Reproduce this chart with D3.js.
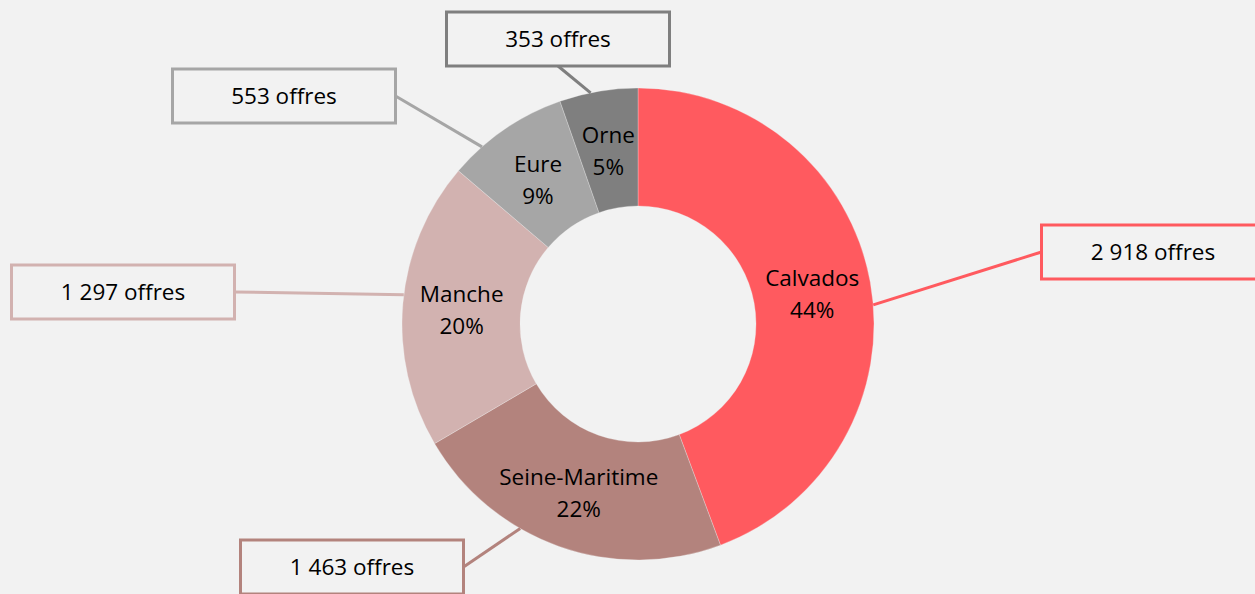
<!DOCTYPE html>
<html>
<head>
<meta charset="utf-8">
<script src="https://cdn.jsdelivr.net/npm/d3@7"></script>
<style>
  html, body { margin: 0; padding: 0; background: #f2f2f2; }
  svg { display: block; }
</style>
</head>
<body>
<div id="viz"></div>
<script>
const width = 1255
const height = 594

// data
const departements = ["Calvados", "Seine-Maritime", "Manche", "Eure", "Orne"]
const offres = [2918, 1463, 1297, 553, 353]
const pourcentages = ["44%", "22%", "20%", "9%", "5%"]
const colors = ["#ff5a5f", "#b3837d", "#d2b2b0", "#a6a6a6", "#7f7f7f"]

// layout of the callout boxes (centre x, centre y) and where the leader hits the ring
const boxW = 223
const boxH = 54
const boxCenters = [[1153, 252], [352, 567], [123, 292], [284, 96], [558, 39]]
const boxAnchor = ["left", "right", "right", "right", "bottom"]
const leaderFrac = [0.535, 0.63, 0.53, 0.27, 0.4]

const fontFamily = "'Open Sans', 'Noto Sans', sans-serif"
const fontSize = 22.5
const fmt = d3.formatLocale({decimal: ",", thousands: "\u00a0", grouping: [3], currency: ["", "€"]}).format(",d")

const cx = 638, cy = 324
const outerR = 236, innerR = 118

const svg = d3.select("#viz").append("svg").attr("width", width).attr("height", height)
svg.append("rect").attr("width", width).attr("height", height).attr("fill", "#f2f2f2")

const data = departements.map((d, i) => ({name: d, value: offres[i], pct: pourcentages[i], color: colors[i], i: i}))

const pie = d3.pie().value(d => d.value).sort(null)
const arcs = pie(data)
const arc = d3.arc().innerRadius(innerR).outerRadius(outerR)

const chart = svg.append("g").attr("transform", `translate(${cx}, ${cy})`)

chart.selectAll("path.slice").data(arcs).enter().append("path")
    .attr("class", "slice")
    .attr("d", arc)
    .attr("fill", d => d.data.color)
    .attr("stroke", "#f2f2f2").attr("stroke-width", 0.3)

// labels inside the ring
const sliceLabels = chart.selectAll("text.sliceLabel").data(arcs).enter().append("text")
    .attr("class", "sliceLabel")
    .attr("transform", d => `translate(${arc.centroid(d)})`)
    .attr("text-anchor", "middle")
    .attr("font-family", fontFamily).attr("font-size", fontSize).attr("fill", "#000")
sliceLabels.append("tspan").attr("x", 0).attr("y", -14).attr("dy", "0.35em").text(d => d.data.name)
sliceLabels.append("tspan").attr("x", 0).attr("y", 18).attr("dy", "0.35em").text(d => d.data.pct)

// leader lines
function anchorPoint(i) {
    const [bx, by] = boxCenters[i]
    if (boxAnchor[i] === "left") return [bx - boxW/2, by]
    if (boxAnchor[i] === "right") return [bx + boxW/2, by]
    return [bx, by + boxH/2]
}
function leaderAngle(d) {
    return d.startAngle + (d.endAngle - d.startAngle) * leaderFrac[d.index]
}
svg.selectAll("line.leader").data(arcs).enter().append("line")
    .attr("class", "leader")
    .attr("x1", d => anchorPoint(d.index)[0])
    .attr("y1", d => anchorPoint(d.index)[1])
    .attr("x2", d => cx + outerR * Math.sin(leaderAngle(d)))
    .attr("y2", d => cy - outerR * Math.cos(leaderAngle(d)))
    .attr("stroke", d => d.data.color).attr("stroke-width", 3)

// callout boxes
const boxes = svg.selectAll("g.callout").data(arcs).enter().append("g")
    .attr("class", "callout")
    .attr("transform", d => `translate(${boxCenters[d.index][0]}, ${boxCenters[d.index][1]})`)
boxes.append("rect")
    .attr("x", -boxW/2).attr("y", -boxH/2).attr("width", boxW).attr("height", boxH)
    .attr("fill", "#f2f2f2").attr("stroke", d => d.data.color).attr("stroke-width", 3)
boxes.append("text")
    .attr("text-anchor", "middle").attr("dy", "0.35em")
    .attr("font-family", fontFamily).attr("font-size", fontSize).attr("fill", "#000")
    .text(d => fmt(d.data.value) + " offres")
</script>
</body>
</html>
